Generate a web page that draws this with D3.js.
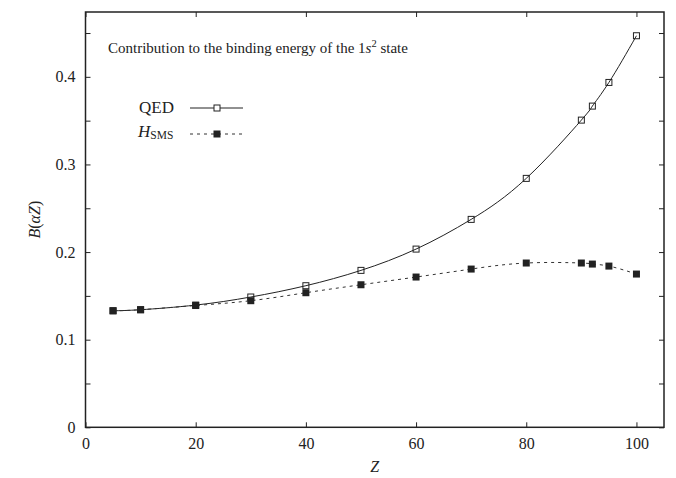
<!DOCTYPE html>
<meta charset="utf-8">
<head>
  <title>Binding energy contribution</title>
</head>
<script src="https://d3js.org/d3.v7.min.js"></script>
<style>
  body { margin: 0; background: white; }
  text { font-family: "Liberation Serif", "DejaVu Serif", serif; fill: #222; }
</style>
<body>
  <div id="chart"></div>
</body>
<script>
  // values
  var zValues = [5, 10, 20, 30, 40, 50, 60, 70, 80, 90, 92, 95, 100];
  var qedValues = [0.1330, 0.1342, 0.1395, 0.1487, 0.1616, 0.1791, 0.2034, 0.2373, 0.2841, 0.3506, 0.3666, 0.3936, 0.4469];
  var smsValues = [0.1330, 0.1342, 0.1390, 0.1445, 0.1536, 0.1627, 0.1715, 0.1806, 0.1875, 0.1875, 0.1863, 0.1840, 0.1749];
  var xTicks = [0, 20, 40, 60, 80, 100];
  var yTicks = [0, 0.05, 0.1, 0.15, 0.2, 0.25, 0.3, 0.35, 0.4, 0.45];
  var yLabels = ["0", "", "0.1", "", "0.2", "", "0.3", "", "0.4", ""];

  var W = 676, H = 478;
  var margin = { top: 12, right: 12, bottom: 50.7, left: 85.5 };

  var svg = d3.select("#chart").append("svg")
    .attr("width", W)
    .attr("height", H);

  var x = d3.scaleLinear().domain([0, 105]).range([margin.left, W - margin.right]);
  var y = d3.scaleLinear().domain([0, 0.474]).range([H - margin.bottom, margin.top]);

  var qed = zValues.map(function (z, i) { return { z: z, v: qedValues[i] }; });
  var sms = zValues.map(function (z, i) { return { z: z, v: smsValues[i] }; });

  // ticks, all pointing inwards
  function styleAxis(g) {
    g.select(".domain").remove();
    g.selectAll(".tick line").attr("stroke", "#222").attr("stroke-width", 1);
    g.selectAll(".tick text").style("font-size", "16px");
  }

  svg.append("g")
    .attr("transform", "translate(0," + y(0) + ")")
    .call(d3.axisBottom(x).tickValues(xTicks).tickSize(-5).tickPadding(10)
      .tickFormat(function (d) { return d; }))
    .call(styleAxis);
  svg.append("g")
    .attr("transform", "translate(0," + margin.top + ")")
    .call(d3.axisTop(x).tickValues(xTicks).tickSize(-5).tickFormat(""))
    .call(styleAxis);
  svg.append("g")
    .attr("transform", "translate(" + x(0) + ",0)")
    .call(d3.axisLeft(y).tickValues(yTicks).tickSize(-5).tickPadding(10)
      .tickFormat(function (d, i) { return yLabels[i]; }))
    .call(styleAxis);
  svg.append("g")
    .attr("transform", "translate(" + x(105) + ",0)")
    .call(d3.axisRight(y).tickValues(yTicks).tickSize(-5).tickFormat(""))
    .call(styleAxis);

  // frame
  svg.append("rect")
    .attr("x", x(0)).attr("y", y(0.474))
    .attr("width", x(105) - x(0)).attr("height", y(0) - y(0.474))
    .attr("fill", "none").attr("stroke", "#222").attr("stroke-width", 1.5);

  var line = d3.line()
    .curve(d3.curveNatural)
    .x(function (d) { return x(d.z); })
    .y(function (d) { return y(d.v); });

  svg.append("path").datum(qed)
    .attr("d", line)
    .attr("fill", "none").attr("stroke", "#222").attr("stroke-width", 1);

  svg.append("path").datum(sms)
    .attr("d", line)
    .attr("fill", "none").attr("stroke", "#333").attr("stroke-width", 1)
    .attr("stroke-dasharray", "3,4");

  var s = 6;
  svg.append("g").selectAll("rect").data(qed).enter().append("rect")
    .attr("x", function (d) { return x(d.z) - s / 2; })
    .attr("y", function (d) { return y(d.v) - s / 2; })
    .attr("width", s).attr("height", s)
    .attr("fill", "none").attr("stroke", "#222").attr("stroke-width", 1);

  svg.append("g").selectAll("rect").data(sms).enter().append("rect")
    .attr("x", function (d) { return x(d.z) - s / 2 - 0.5; })
    .attr("y", function (d) { return y(d.v) - s / 2 - 0.5; })
    .attr("width", s + 1).attr("height", s + 1)
    .attr("fill", "#222");

  // title
  var title = svg.append("text")
    .attr("x", 108).attr("y", 53)
    .style("font-size", "15px");
  title.append("tspan").text("Contribution to the binding energy of the 1");
  title.append("tspan").style("font-style", "italic").text("s");
  title.append("tspan").attr("dy", -6).style("font-size", "10.5px").text("2");
  title.append("tspan").attr("dy", 6).text(" state");

  // legend
  svg.append("text").attr("x", 139).attr("y", 113)
    .style("font-size", "17px").text("QED");
  svg.append("line").attr("x1", 190).attr("x2", 243).attr("y1", 108).attr("y2", 108)
    .attr("stroke", "#222").attr("stroke-width", 1);
  svg.append("rect").attr("x", 217 - s / 2).attr("y", 108 - s / 2)
    .attr("width", s).attr("height", s)
    .attr("fill", "white").attr("stroke", "#222");

  var hl = svg.append("text").attr("x", 138).attr("y", 137).style("font-size", "17px");
  hl.append("tspan").style("font-style", "italic").text("H");
  hl.append("tspan").attr("dy", 2).style("font-size", "11.5px").text("SMS");
  svg.append("line").attr("x1", 190).attr("x2", 243).attr("y1", 134).attr("y2", 134)
    .attr("stroke", "#333").attr("stroke-width", 1).attr("stroke-dasharray", "3,4");
  svg.append("rect").attr("x", 217 - s / 2 - 0.5).attr("y", 134 - s / 2 - 0.5)
    .attr("width", s + 1).attr("height", s + 1).attr("fill", "#222");

  // axis titles
  svg.append("text")
    .attr("x", x(52.5)).attr("y", 472)
    .attr("text-anchor", "middle")
    .style("font-size", "16px").style("font-style", "italic")
    .text("Z");

  var yl = svg.append("text")
    .attr("transform", "translate(40," + y(0.237) + ") rotate(-90)")
    .attr("text-anchor", "middle")
    .style("font-size", "16px");
  yl.append("tspan").style("font-style", "italic").text("B");
  yl.append("tspan").text("(");
  yl.append("tspan").style("font-style", "italic").text("αZ");
  yl.append("tspan").text(")");
</script>
